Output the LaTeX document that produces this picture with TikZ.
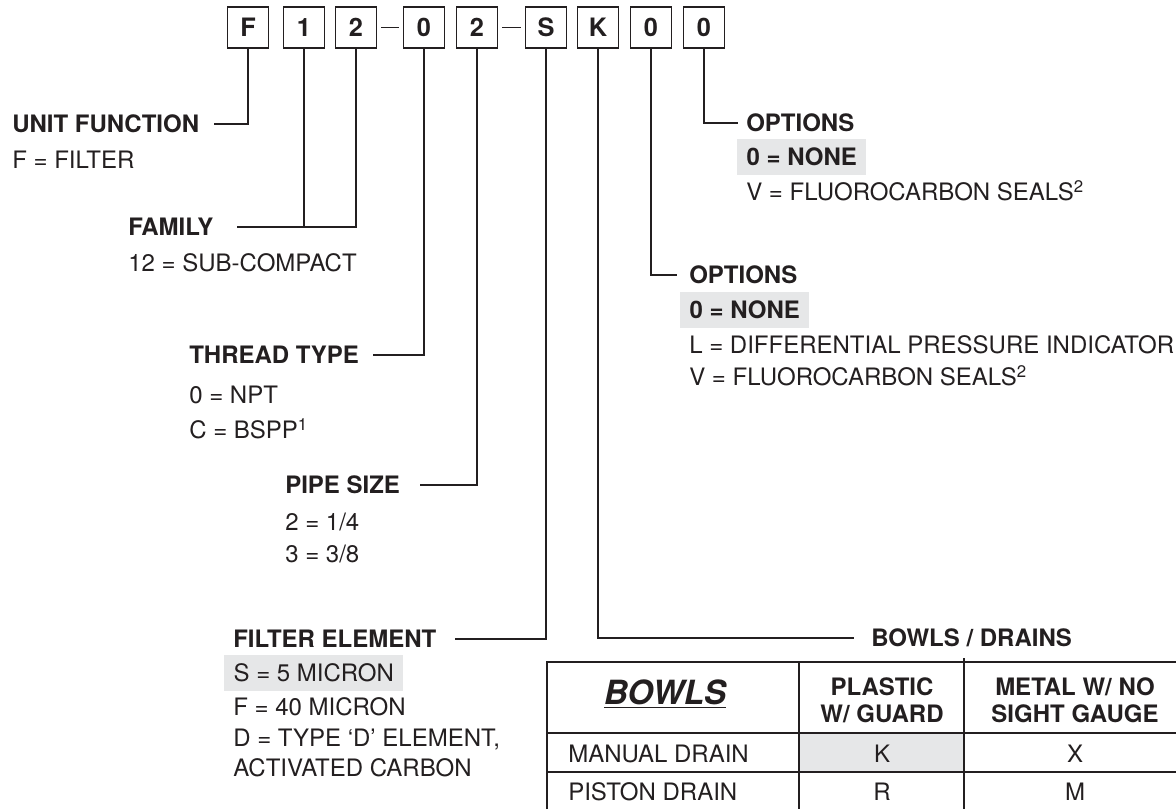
\documentclass[tikz,border=0pt]{standalone}
\usepackage{fontspec}
\setmainfont{TeX Gyre Heros}
\usepackage{tikz}
\usetikzlibrary{calc}

\definecolor{ink}{RGB}{35,31,32}
\definecolor{hlgray}{RGB}{230,231,232}

\begin{document}
\begin{tikzpicture}[
        x=0.75pt, y=-0.75pt,
        every node/.style={text=ink},
        digit/.style={draw=ink, line width=0.9pt, minimum width=30.75pt, minimum height=30.75pt, inner sep=0pt, font=\fontsize{19}{22}\selectfont\bfseries},
        item/.style={anchor=west, inner sep=0pt, text height=12.9pt, text depth=0pt, font=\fontsize{18}{21}\selectfont},
        head/.style={item, font=\fontsize{18}{21}\selectfont\bfseries},
        picked/.style={fill=hlgray, inner xsep=7pt, minimum height=26.5pt},
        cell/.style={inner sep=0pt, text height=12.9pt, text depth=0pt, font=\fontsize{18}{21}\selectfont},
        hcell/.style={cell, font=\fontsize{18}{21}\selectfont\bfseries},
        link/.style={draw=ink, line width=0.9pt}
    ]
        \useasboundingbox (0,0) rectangle (1176,809);

        % code boxes
        \foreach \name/\x/\ch in {bF/248/F, b1/304/1, b2/356/2, b0/424/0, b2s/477/2, bS/546/S, bK/598/K, b0a/651/0, b0b/704/0}
            \node[digit] (\name) at (\x,27.5) {\ch};
        \draw[link, shorten <=3pt, shorten >=3pt] (b2.east) -- (b0.west);
        \draw[link, shorten <=3pt, shorten >=3pt] (b2s.east) -- (bS.west);

        % left side fields
        \node[head] (unitFn) at (12,124) {UNIT FUNCTION};
        \node[item] (unitF) at (12,160) {F = FILTER};
        \node[head] (family) at (128,227) {FAMILY};
        \node[item] (famSub) at (128,263) {12 = SUB-COMPACT};
        \node[head] (thread) at (189,355) {THREAD TYPE};
        \node[item] (thNpt) at (189,395) {0 = NPT};
        \node[item] (thBspp) at (189,430) {C = BSPP\textsuperscript{1}};
        \node[head] (pipe) at (285,485) {PIPE SIZE};
        \node[item] (pipeA) at (285,522) {2 = 1/4};
        \node[item] (pipeB) at (285,554) {3 = 3/8};
        \node[head] (element) at (233,639) {FILTER ELEMENT};
        \node[item, picked] (elS) at (224,673) {S = 5 MICRON};
        \node[item] (elF) at (233,707) {F = 40 MICRON};
        \node[item] (elD) at (233,738) {D = TYPE `D' ELEMENT,};
        \node[item] (elCarbon) at (233,768) {ACTIVATED CARBON};

        % right side fields
        \node[head] (optA) at (746,123) {OPTIONS};
        \node[head, picked] (optANone) at (737,157) {0 = NONE};
        \node[item] (optASeal) at (746,192) {V = FLUOROCARBON SEALS\textsuperscript{2}};
        \node[head] (optB) at (689,275) {OPTIONS};
        \node[head, picked] (optBNone) at (680,310) {0 = NONE};
        \node[item] (optBDiff) at (689,345) {L = DIFFERENTIAL PRESSURE INDICATOR};
        \node[item] (optBSeal) at (689,377) {V = FLUOROCARBON SEALS\textsuperscript{2}};
        \node[head] (bowlsDr) at (871,638) {BOWLS / DRAINS};

        % leaders
        \draw[link] (bF.south) |- ($(unitFn.east)+(15,0)$);
        \draw[link] (b1.south) |- ($(family.east)+(23,0)$);
        \draw[link] (b2.south) |- ($(family.east)+(23,0)$);
        \draw[link] (b0.south) |- ($(thread.east)+(14,0)$);
        \draw[link] (b2s.south) |- ($(pipe.east)+(20,0)$);
        \draw[link] (bS.south) |- ($(element.east)+(18,0)$);
        \draw[link] (bK.south) |- ($(bowlsDr.west)+(-17,0)$);
        \draw[link] (b0a.south) |- ($(optB.west)+(-12,0)$);
        \draw[link] (b0b.south) |- ($(optA.west)+(-8,0)$);

        % bowls table
        \fill[hlgray] (799,733) rectangle (964,772);
        \draw[link] (547,809) -- (547,662) -- (1176,662);
        \draw[link] (547,733) -- (1176,733);
        \draw[link] (547,772) -- (1176,772);
        \draw[link] (799,662) -- (799,809);
        \draw[link] (964,658) -- (964,809);

        \node[inner sep=0pt, font=\fontsize{25}{28}\selectfont\bfseries\itshape] (bowlsHd) at (665,694) {\underline{BOWLS}};
        \node[hcell] (hdPlastic) at (882,687) {PLASTIC};
        \node[hcell] (hdGuard) at (882,714) {W/ GUARD};
        \node[hcell] (hdMetal) at (1075,687) {METAL W/ NO};
        \node[hcell] (hdGauge) at (1075,714) {SIGHT GAUGE};
        \node[cell, anchor=west] (rManual) at (568,754) {MANUAL DRAIN};
        \node[cell, anchor=west] (rPiston) at (568,792) {PISTON DRAIN};
        \node[cell] (cK) at (882,754) {K};
        \node[cell] (cX) at (1075,754) {X};
        \node[cell] (cR) at (882,792) {R};
        \node[cell] (cM) at (1075,792) {M};
    \end{tikzpicture}
\end{document}
